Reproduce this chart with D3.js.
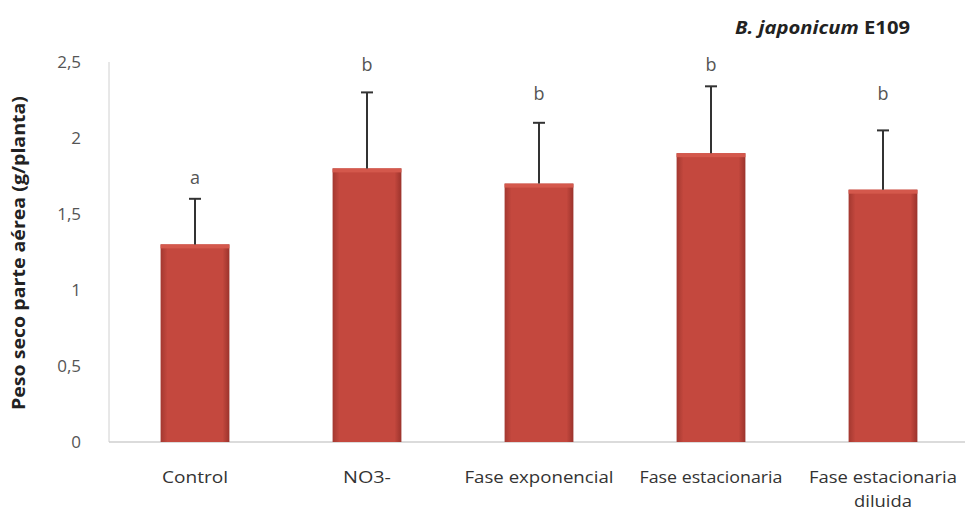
<!DOCTYPE html>
<html><head><meta charset="utf-8">
<script src="https://cdn.jsdelivr.net/npm/d3@7"></script>
<style>body{margin:0;background:#fff}</style>
</head><body>
<svg id="c" width="969" height="513"></svg>
<script>
const categories = [["Control"],["NO3-"],["Fase exponencial"],["Fase estacionaria"],["Fase estacionaria","diluida"]];
const values = [1.30, 1.80, 1.70, 1.90, 1.66];
const errors = [0.30, 0.50, 0.40, 0.44, 0.39];
const letters = ["a","b","b","b","b"];
const letterValues = [1.74, 2.48, 2.29, 2.48, 2.29];
const yTicks = [0, 0.5, 1, 1.5, 2, 2.5];
const labelWidths = [[66],[48],[149],[143],[148,58]];

const svg = d3.select("#c");
const m = {l:109, r:0, t:62, b:71};
const W = 969, H = 513;
const x = d3.scaleBand().domain(d3.range(categories.length)).range([m.l, W - m.r]).paddingInner(0.6).paddingOuter(0.3);
const y = d3.scaleLinear().domain([0, 2.5]).range([H - m.b, m.t]);

const defs = svg.append("defs");
const g = defs.append("linearGradient").attr("id","bg").attr("x1",0).attr("x2",1).attr("y1",0).attr("y2",0);
g.append("stop").attr("offset","0%").attr("stop-color","#a33830");
g.append("stop").attr("offset","10%").attr("stop-color","#c4483e");
g.append("stop").attr("offset","90%").attr("stop-color","#c4483e");
g.append("stop").attr("offset","100%").attr("stop-color","#9b332c");

// axes
svg.append("line").attr("x1", m.l).attr("x2", W - 4).attr("y1", y(0)).attr("y2", y(0)).attr("stroke","#b8b8b8").attr("stroke-width",1.2);
svg.append("line").attr("x1", m.l).attr("x2", m.l).attr("y1", y(0)).attr("y2", y(2.5)).attr("stroke","#d0d0d0").attr("stroke-width",1);

const yAxis = d3.axisLeft(y).tickValues(yTicks).tickSize(0).tickPadding(0)
  .tickFormat(d => d3.format("")(d).replace(".", ","));
const ya = svg.append("g").attr("transform",`translate(${m.l - 28},0)`).call(yAxis);
ya.select(".domain").remove();
ya.selectAll("text").attr("font-family","'Open Sans', sans-serif").attr("font-size",17).attr("fill","#555").attr("dy","0.32em");

// bars
svg.selectAll("rect.bar").data(values).join("rect").attr("class","bar")
  .attr("x",(d,i)=>x(i)).attr("width",x.bandwidth())
  .attr("y",d=>y(d)).attr("height",d=>y(0)-y(d))
  .attr("fill","url(#bg)");
svg.selectAll("rect.top").data(values).join("rect").attr("class","top")
  .attr("x",(d,i)=>x(i)).attr("width",x.bandwidth())
  .attr("y",d=>y(d)).attr("height",4).attr("fill","#d4584c");

// error bars
const eb = svg.selectAll("g.eb").data(values).join("g").attr("class","eb");
eb.append("line").attr("x1",(d,i)=>x(i)+x.bandwidth()/2).attr("x2",(d,i)=>x(i)+x.bandwidth()/2)
  .attr("y1",d=>y(d)).attr("y2",(d,i)=>y(d+errors[i])).attr("stroke","#333").attr("stroke-width",2);
eb.append("line").attr("x1",(d,i)=>x(i)+x.bandwidth()/2-6).attr("x2",(d,i)=>x(i)+x.bandwidth()/2+6)
  .attr("y1",(d,i)=>y(d+errors[i])).attr("y2",(d,i)=>y(d+errors[i])).attr("stroke","#333").attr("stroke-width",2);

// letters
svg.selectAll("text.let").data(letters).join("text").attr("class","let")
  .attr("x",(d,i)=>x(i)+x.bandwidth()/2).attr("y",(d,i)=>y(letterValues[i]))
  .attr("text-anchor","middle").attr("dy","0.35em")
  .attr("font-family","'Open Sans', sans-serif").attr("font-size",18).attr("fill","#555").text(d=>d);

// category labels
const cl = svg.selectAll("text.cat").data(categories).join("text").attr("class","cat")
  .attr("text-anchor","middle")
  .attr("font-family","'Open Sans', sans-serif").attr("font-size",17).attr("fill","#333");
cl.each(function(d,i){
  d3.select(this).selectAll("tspan").data(d).join("tspan")
    .attr("x", x(i)+x.bandwidth()/2).attr("y",(t,j)=>483 + j*24)
    .attr("textLength",(t,j)=>labelWidths[i][j]).attr("lengthAdjust","spacingAndGlyphs")
    .text(t=>t);
});

// y title
svg.append("text").attr("transform","translate(25,253) rotate(-90)").attr("text-anchor","middle")
  .attr("font-family","'Open Sans', sans-serif").attr("font-weight","bold").attr("font-size",18).attr("fill","#222")
  .attr("textLength",314).attr("lengthAdjust","spacingAndGlyphs")
  .text("Peso seco parte aérea (g/planta)");

// title
const t = svg.append("text").attr("x",735).attr("y",34)
  .attr("font-family","'Open Sans', sans-serif").attr("font-weight","bold").attr("font-size",17).attr("fill","#222")
  .attr("textLength",175).attr("lengthAdjust","spacingAndGlyphs");
t.append("tspan").attr("font-style","italic").text("B. japonicum");
t.append("tspan").text(" E109");
</script>
</body></html>
